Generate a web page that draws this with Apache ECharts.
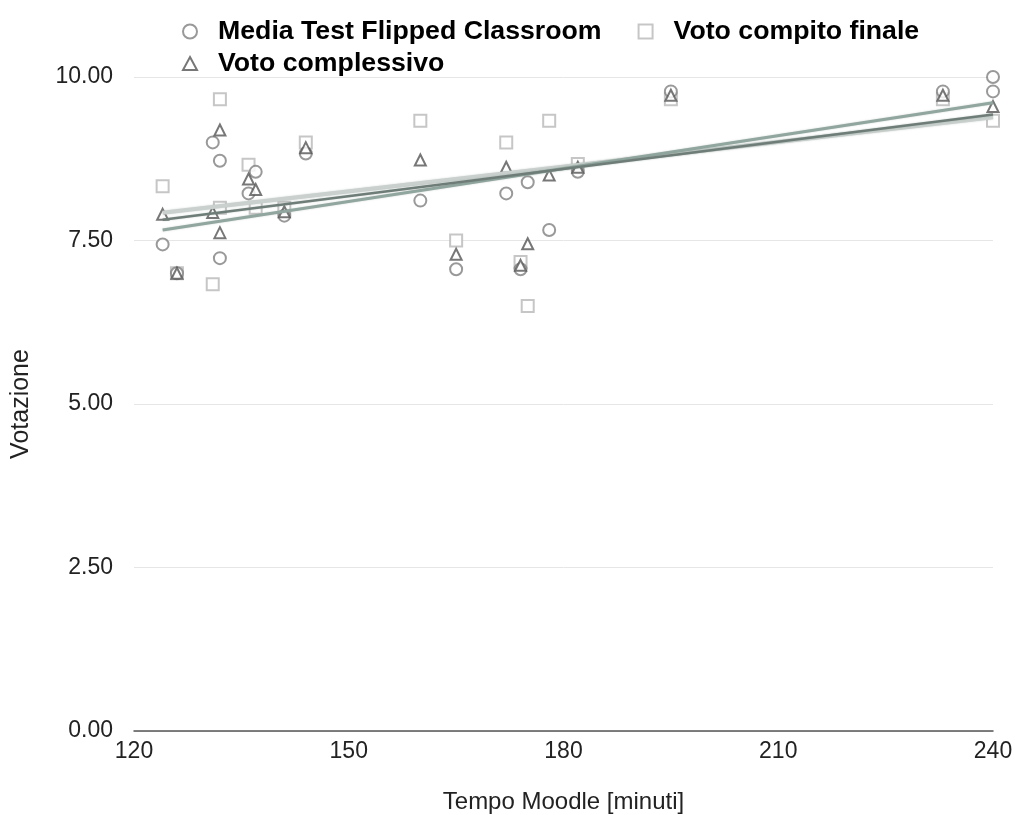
<!DOCTYPE html>
<html>
<head>
<meta charset="utf-8">
<script src="https://cdn.jsdelivr.net/npm/echarts@6/dist/echarts.min.js"></script>
<style>html,body{margin:0;padding:0;background:#fff}#c{width:1015px;height:815px}</style>
</head>
<body>
<div id="c"></div>
<script>
// x = Tempo Moodle [minuti]
const mediaTest = [[124,7.44],[126,7.0],[131,9.0],[132,8.72],[132,7.23],[136,8.22],[137,8.55],[141,7.88],[144,8.83],[160,8.11],[165,7.06],[172,8.22],[174,7.06],[175,8.39],[178,7.66],[182,8.55],[195,9.78],[233,9.78],[240,9.78],[240,10.0]];
const votoCompito = [[124,8.33],[126,7.0],[131,6.83],[132,9.66],[132,8.0],[136,8.66],[137,8.0],[141,8.0],[144,9.0],[160,9.33],[165,7.5],[172,9.0],[174,7.17],[175,6.5],[178,9.33],[182,8.67],[195,9.66],[233,9.66],[240,9.33]];
const votoComplessivo = [[124,7.9],[126,7.0],[131,7.93],[132,9.19],[132,7.62],[136,8.44],[137,8.28],[141,7.94],[144,8.92],[160,8.73],[165,7.29],[172,8.62],[174,7.12],[175,7.45],[178,8.5],[182,8.62],[195,9.72],[233,9.72],[240,9.55]];
const seriesNames = ['Media Test Flipped Classroom','Voto compito finale','Voto complessivo'];
const xTicks = [120,150,180,210,240];
const yTicks = [0,2.5,5,7.5,10];

function trend(data){
  const n=data.length;let sx=0,sy=0,sxx=0,sxy=0;
  data.forEach(([x,y])=>{sx+=x;sy+=y;sxx+=x*x;sxy+=x*y;});
  const b=(n*sxy-sx*sy)/(n*sxx-sx*sx);const a=(sy-b*sx)/n;
  const xs=data.map(d=>d[0]);const x0=Math.min(...xs),x1=Math.max(...xs);
  return [[x0,a+b*x0],[x1,a+b*x1]];
}

const chart = echarts.init(document.getElementById('c'), null, {renderer:'canvas'});
const ff = '"Liberation Sans", Arial, sans-serif';
const mk = (name, data, symbol, color, z) => ({
  name, type:'scatter', data, symbol, symbolSize: symbol==='triangle'?11:12, z,
  itemStyle:{color:'#fff', borderColor:color, borderWidth:2}
});
const tl = (data, color, width, z) => ({
  type:'line', data: trend(data), symbol:'none', silent:true, z,
  lineStyle:{color, width, shadowColor:'rgba(120,140,130,0.35)', shadowBlur:2}
});
chart.setOption({
  animation:false,
  grid:{left:134, right:22, top:77, bottom:84, outerBoundsMode:'none', containLabel:false},
  legend:[
    {left:177, top:13, itemGap:36, itemWidth:14, itemHeight:14, data:[seriesNames[0],seriesNames[1]],
     textStyle:{fontFamily:ff, fontWeight:'bold', fontSize:26.7, color:'#000', padding:[0,0,0,16]}},
    {left:177, top:45, itemWidth:14, itemHeight:13, data:[seriesNames[2]],
     textStyle:{fontFamily:ff, fontWeight:'bold', fontSize:26.7, color:'#000', padding:[0,0,0,16]}}
  ],
  xAxis:{type:'value', min:120, max:240, interval:30, name:'Tempo Moodle [minuti]', nameLocation:'middle', nameGap:59,
    nameTextStyle:{fontFamily:ff, fontSize:24, color:'#222'},
    axisLine:{lineStyle:{color:'#555', width:1.5}}, axisTick:{show:false}, splitLine:{show:false},
    axisLabel:{fontFamily:ff, fontSize:23, color:'#222', margin:9, formatter:v=>xTicks.includes(v)?String(v):''}},
  yAxis:{type:'value', min:0, max:10, interval:2.5, name:'Votazione', nameLocation:'middle', nameGap:100,
    nameTextStyle:{fontFamily:ff, fontSize:25, color:'#222'},
    axisLine:{show:false}, axisTick:{show:false},
    splitLine:{lineStyle:{color:'#e6e6e6', width:1}},
    axisLabel:{fontFamily:ff, fontSize:23, color:'#222', margin:21, formatter:v=>yTicks.includes(v)?v.toFixed(2):''}},
  series:[
    mk(seriesNames[0], mediaTest, 'circle', '#7f7f7f', 5),
    mk(seriesNames[1], votoCompito, 'rect', '#b8b8b8', 4),
    mk(seriesNames[2], votoComplessivo, 'triangle', '#555', 6),
    tl(votoCompito, '#c9d0cd', 4, 7),
    tl(mediaTest, '#90a69e', 3, 8),
    tl(votoComplessivo, '#6f7d78', 2.5, 9)
  ]
});
</script>
</body>
</html>
